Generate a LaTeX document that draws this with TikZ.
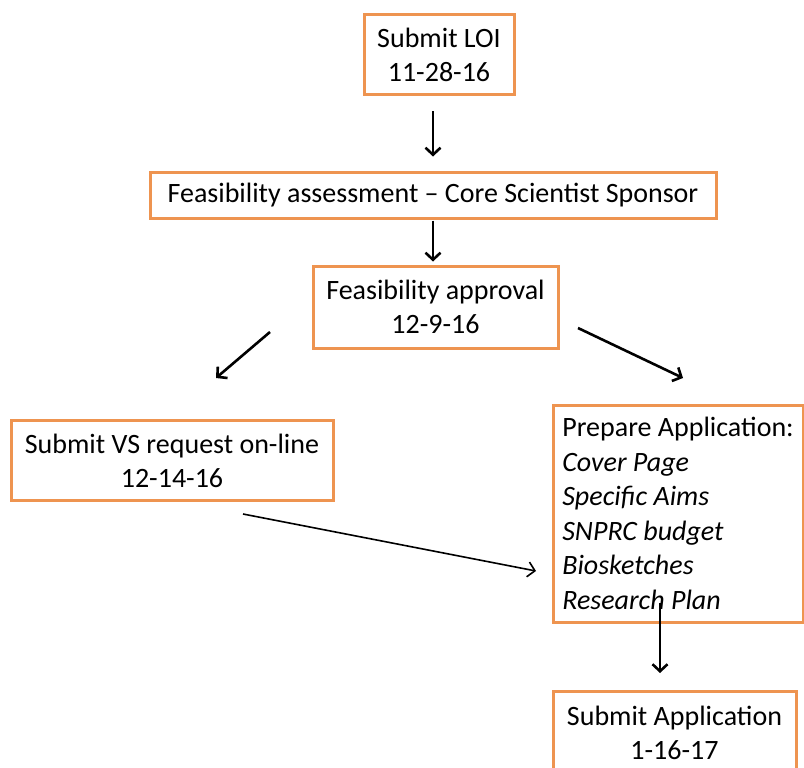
\documentclass[tikz,border=0pt]{standalone}
\usepackage{fontspec}
\setmainfont{Carlito}
\usetikzlibrary{arrows.meta}
\usetikzlibrary{positioning}
\definecolor{boxorange}{RGB}{238,148,80}

\begin{document}
\begin{tikzpicture}[x=1pt, y=-1pt, ->, >={Straight Barb[length=7pt,width=15pt]}, line width=2.6pt]
\tikzstyle{box} = [draw=boxorange, line width=3pt, fill=white, align=center, inner sep=0pt, font=\fontsize{28}{34}\selectfont]
\useasboundingbox (0,0) rectangle (804,768);

\node[box, minimum width=150pt, minimum height=80pt] (loi) at (439,55) {Submit LOI\\11-28-16};
\node[box, minimum width=566pt, minimum height=46pt] (feas) at (433,195) {Feasibility assessment -- Core Scientist Sponsor};
\node[box, minimum width=245pt, minimum height=82pt] (appr) at (435.5,307) {Feasibility approval\\12-9-16};
\node[box, minimum width=322pt, minimum height=80pt] (vs) at (172,460.5) {Submit VS request on-line\\12-14-16};
\node[box, minimum width=250pt, minimum height=217pt, align=left,
      font=\fontsize{28}{34.5}\selectfont] (prep) at (678,513.5)
      {Prepare Application:\\\textit{Cover Page}\\\textit{Specific Aims}\\\textit{SNPRC budget}\\\textit{Biosketches}\\\textit{Research Plan}};
\node[box, minimum width=243pt, minimum height=84pt] (subm) at (674.5,733) {Submit Application\\1-16-17};

% free ends of the slanted arrows
\coordinate (apprL) at (270,332);
\coordinate (vsTop) at (216,378);
\coordinate (apprR) at (578,328);
\coordinate (prepTop) at (683,378);
\coordinate (vsBot) at (243,514);
\coordinate (prepL) at (536,571);
\coordinate (prepBot) at (660,603);
\coordinate (submTop) at (660,673);

\path (loi.south -| feas.north) edge[shorten <=15pt, shorten >=14pt] (feas.north)
      (feas.south) edge[shorten <=1pt, shorten >=3pt] (feas.south |- appr.north)
      (apprL) edge (vsTop)
      (apprR) edge (prepTop)
      (vsBot) edge[line width=1.6pt] (prepL)
      (prepBot) edge (submTop)
      ;

\end{tikzpicture}
\end{document}
